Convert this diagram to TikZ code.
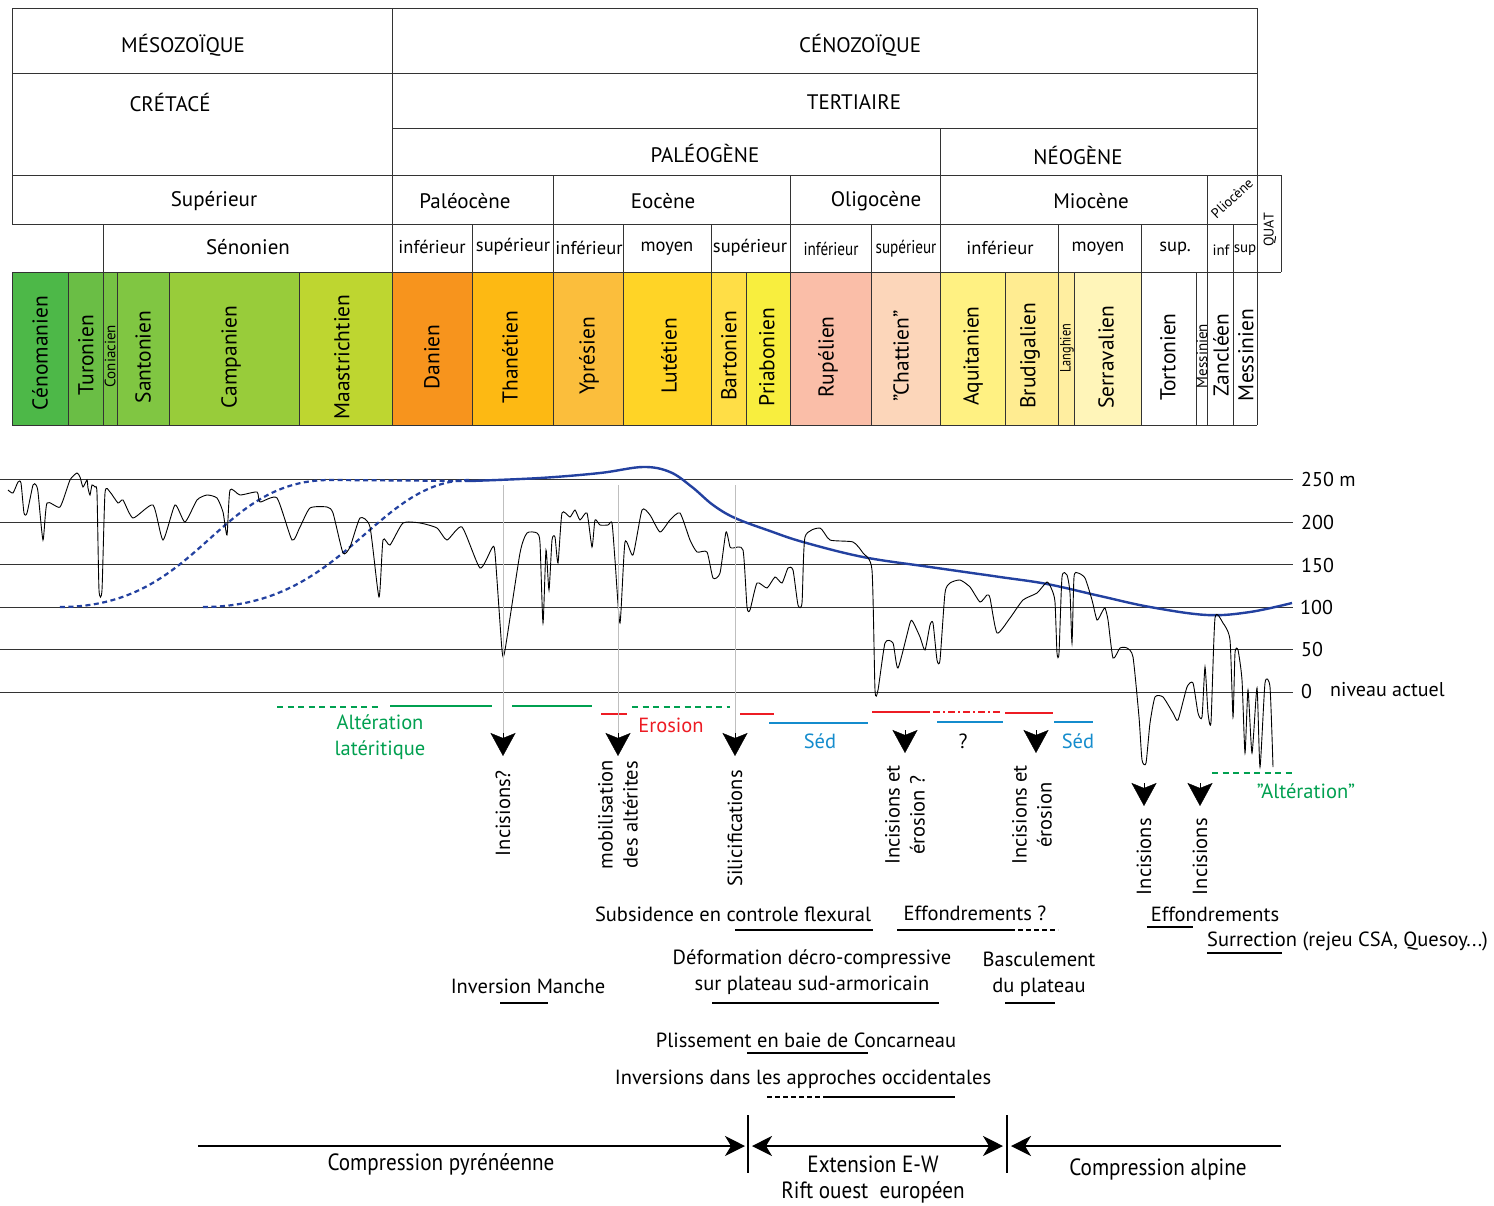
\documentclass[tikz,border=0pt]{standalone}
\usepackage{fontspec}
\setmainfont{PT Sans}
\newfontfamily\narrowfont[FakeStretch=0.82]{PT Sans}
\newfontfamily\condfont[FakeStretch=0.9]{PT Sans}
\usetikzlibrary{arrows.meta}

% couleurs des etages
\definecolor{cenoman}{RGB}{77,184,72}
\definecolor{turon}{RGB}{106,190,69}
\definecolor{coniac}{RGB}{118,194,68}
\definecolor{santon}{RGB}{128,198,66}
\definecolor{campan}{RGB}{152,204,58}
\definecolor{maastr}{RGB}{190,214,48}
\definecolor{danien}{RGB}{247,148,29}
\definecolor{thanet}{RGB}{253,185,19}
\definecolor{ypres}{RGB}{251,190,60}
\definecolor{lutet}{RGB}{255,212,38}
\definecolor{barton}{RGB}{255,222,70}
\definecolor{priabon}{RGB}{248,238,62}
\definecolor{rupel}{RGB}{250,190,168}
\definecolor{chatt}{RGB}{252,214,186}
\definecolor{aquit}{RGB}{255,241,130}
\definecolor{burdig}{RGB}{255,236,145}
\definecolor{langh}{RGB}{255,238,160}
\definecolor{serrav}{RGB}{255,245,185}
\definecolor{vertalt}{RGB}{0,160,80}
\definecolor{rougeero}{RGB}{237,28,36}
\definecolor{bleused}{RGB}{20,140,205}
\definecolor{bleucourbe}{RGB}{35,65,160}

\tikzset{
  filet/.style={line width=1pt, draw=black!80},
  entete/.style={font=\fontsize{21}{23}\selectfont, inner sep=0pt},
  sousper/.style={font=\fontsize{18.5}{20}\selectfont, inner sep=0pt},
  etroit/.style={font=\narrowfont\fontsize{18.5}{20}\selectfont, inner sep=0pt},
  etage/.style={rotate=90, font=\fontsize{21.5}{23}\selectfont, inner sep=0pt},
  petitetage/.style={rotate=90, font=\fontsize{15}{17}\selectfont, inner sep=0pt},
  texte/.style={font=\fontsize{20.5}{26}\selectfont, inner sep=0pt, align=center},
  vertical/.style={texte, rotate=90, font=\fontsize{20.5}{25}\selectfont},
  graduation/.style={font=\fontsize{20}{22}\selectfont, inner sep=0pt, anchor=west},
  niveau/.style={line width=1pt, draw=black!80},
  fleche/.style={line width=0.4pt, -{Stealth[length=23pt,width=25pt,inset=5pt]}},
  repere/.style={line width=0.5pt, draw=black!25},
  souligne/.style={line width=1.6pt},
  trait/.style={line width=2.4pt},
  tirets/.style={line width=2.4pt, dash pattern=on 6pt off 4.5pt},
  phase/.style={line width=1.8pt},
  fin/.style={-{Stealth[length=20pt,width=20pt,inset=6pt]}},
  regime/.style={font=\condfont\fontsize{23.5}{26}\selectfont, inner sep=0pt, align=center}
}

\begin{document}
\begin{tikzpicture}[x=1pt,y=-1pt]
\useasboundingbox (0,0) rectangle (1494,1205);
\fill[white] (0,0) rectangle (1494,1205);

% etages colores
\fill[cenoman] (12,272) rectangle (68,425);
\fill[turon] (68,272) rectangle (103,425);
\fill[coniac] (103,272) rectangle (117,425);
\fill[santon] (117,272) rectangle (169,425);
\fill[campan] (169,272) rectangle (299,425);
\fill[maastr] (299,272) rectangle (392,425);
\fill[danien] (392,272) rectangle (472,425);
\fill[thanet] (472,272) rectangle (553,425);
\fill[ypres] (553,272) rectangle (623,425);
\fill[lutet] (623,272) rectangle (711,425);
\fill[barton] (711,272) rectangle (746,425);
\fill[priabon] (746,272) rectangle (790,425);
\fill[rupel] (790,272) rectangle (871,425);
\fill[chatt] (871,272) rectangle (940,425);
\fill[aquit] (940,272) rectangle (1005,425);
\fill[burdig] (1005,272) rectangle (1058,425);
\fill[langh] (1058,272) rectangle (1074,425);
\fill[serrav] (1074,272) rectangle (1141,425);

% cadre du tableau
\draw[filet] (12,8) -- (1257,8);
\draw[filet] (12,73) -- (1257,73);
\draw[filet] (392,128) -- (1257,128);
\draw[filet] (12,175) -- (1281,175);
\draw[filet] (12,224) -- (1257,224);
\draw[filet] (12,272) -- (1281,272);
\draw[filet] (12,425) -- (1257,425);
\draw[filet] (12,8) -- (12,224);
\draw[filet] (12,272) -- (12,425);
\draw[filet] (392,8) -- (392,425);
\draw[filet] (1257,8) -- (1257,425);
\draw[filet] (1281,175) -- (1281,272);
\draw[filet] (940,128) -- (940,425);
\draw[filet] (553,175) -- (553,425);
\draw[filet] (790,175) -- (790,425);
\draw[filet] (1207,175) -- (1207,425);
\draw[filet] (103,224) -- (103,425);
\draw[filet] (472,224) -- (472,425);
\draw[filet] (623,224) -- (623,425);
\draw[filet] (711,224) -- (711,425);
\draw[filet] (871,224) -- (871,425);
\draw[filet] (1058,224) -- (1058,425);
\draw[filet] (1141,224) -- (1141,425);
\draw[filet] (1233,224) -- (1233,425);
\draw[filet] (68,272) -- (68,425);
\draw[filet] (117,272) -- (117,425);
\draw[filet] (169,272) -- (169,425);
\draw[filet] (299,272) -- (299,425);
\draw[filet] (746,272) -- (746,425);
\draw[filet] (1005,272) -- (1005,425);
\draw[filet] (1074,272) -- (1074,425);
\draw[filet] (1196,272) -- (1196,425);

% eres, systemes, series
\node[entete] (meso) at (183,45) {MÉSOZOÏQUE};
\node[entete] (ceno) at (860,45) {CÉNOZOÏQUE};
\node[entete] (cretace) at (170,102) {CRÉTACÉ};
\node[entete] (tertiaire) at (854,102) {TERTIAIRE};
\node[entete] (paleogene) at (705,153) {PALÉOGÈNE};
\node[entete] (neogene) at (1078,155) {NÉOGÈNE};
\node[entete] (superieur) at (214,201) {Supérieur};
\node[entete] (paleocene) at (465,201) {Paléocène};
\node[entete] (eocene) at (663,201) {Eocène};
\node[entete] (oligocene) at (876,201) {Oligocène};
\node[entete] (miocene) at (1091,201) {Miocène};
\node[font=\fontsize{14}{16}\selectfont, inner sep=0pt, rotate=43] (pliocene) at (1232,198) {Pliocène};
\node[font=\fontsize{14}{16}\selectfont, inner sep=0pt, rotate=90] (quat) at (1270,230) {QUAT};

% sous-series
\node[entete] (senonien) at (248,247) {Sénonien};
\node[sousper] (paleoInf) at (432,247) {inférieur};
\node[sousper] (paleoSup) at (513,247) {supérieur};
\node[sousper] (eoInf) at (589,248) {inférieur};
\node[sousper] (eoMoy) at (667,249) {moyen};
\node[sousper] (eoSup) at (750,248) {supérieur};
\node[etroit] (oliInf) at (831,249) {inférieur};
\node[etroit] (oliSup) at (906,249) {supérieur};
\node[sousper] (mioInf) at (1000,248) {inférieur};
\node[sousper] (mioMoy) at (1098,249) {moyen};
\node[sousper] (mioSup) at (1175,249) {sup.};
\node[font=\fontsize{15}{17}\selectfont, inner sep=0pt] (plioInf) at (1221,250) {inf};
\node[font=\fontsize{15}{17}\selectfont, inner sep=0pt] (plioSup) at (1245,250) {sup};

% etages
\node[etage] (cenomanien) at (40,353) {Cénomanien};
\node[etage] (turonien) at (86,355) {Turonien};
\node[petitetage] (coniacien) at (110,356) {Coniacien};
\node[etage] (santonien) at (143,357) {Santonien};
\node[etage] (campanien) at (231,357) {Campanien};
\node[etage] (maastrichtien) at (342,357) {Maastrichtien};
\node[etage] (danien) at (432,357) {Danien};
\node[etage] (thanetien) at (510,357) {Thanétien};
\node[etage] (ypresien) at (589,356) {Yprésien};
\node[etage] (lutetien) at (669,356) {Lutétien};
\node[etage] (bartonien) at (729,356) {Bartonien};
\node[etage] (priabonien) at (767,357) {Priabonien};
\node[etage] (rupelien) at (828,357) {Rupélien};
\node[etage] (chattien) at (901,356) {"Chattien"};
\node[etage] (aquitanien) at (973,356) {Aquitanien};
\node[etage] (burdigalien) at (1030,356) {Brudigalien};
\node[petitetage, font=\narrowfont\fontsize{15}{17}\selectfont] (langhien) at (1067,348) {Langhien};
\node[etage] (serravalien) at (1106,357) {Serravalien};
\node[etage] (tortonien) at (1168,357) {Tortonien};
\node[petitetage] (messinienA) at (1202,356) {Messinien};
\node[etage] (zancleen) at (1221,355) {Zancléen};
\node[etage] (messinienB) at (1246,355) {Messinien};

% niveaux d'altitude
\draw[niveau] (0,479) -- (1293,479);
\draw[niveau] (0,522) -- (1293,522);
\draw[niveau] (0,564) -- (1293,564);
\draw[niveau] (0,607) -- (1293,607);
\draw[niveau] (0,649) -- (1293,649);
\draw[niveau] (0,692) -- (1293,692);
\node[graduation] (gr250) at (1301,479) {250 m};
\node[graduation] (gr200) at (1301,522) {200};
\node[graduation] (gr150) at (1301,565) {150};
\node[graduation] (gr100) at (1300,607) {100};
\node[graduation] (gr50) at (1301,649) {50};
\node[graduation] (gr0) at (1301,691) {0};
\node[graduation] (niveau) at (1330,690) {niveau actuel};

% courbes bleues
\draw[bleucourbe, line width=2.2pt, dash pattern=on 5pt off 3.5pt]
  (60,607) .. controls (200,607) and (215,480) .. (330,480) -- (470,481);
\draw[bleucourbe, line width=2.2pt, dash pattern=on 5pt off 3.5pt]
  (203,607) .. controls (345,607) and (375,480) .. (470,480);
\draw[bleucourbe, line width=2.4pt] plot[smooth, tension=0.6] coordinates {
  (470,481) (540,478) (600,473) (643,467) (670,472) (692,487) (713,505) (735,518)
  (770,531) (803,542) (863,557) (930,567) (1000,577) (1047,584) (1100,596)
  (1150,607) (1207,615) (1250,612) (1292,603)};

% courbe du relief
\draw[line width=0.9pt] plot[smooth, tension=0.35] coordinates {
  (8,490) (13,493) (18,482) (21,483) (24,513) (27,513) (33,485) (36,485) (38,492)
  (43,540) (47,503) (60,507) (70,480) (77,473) (80,477) (83,487) (87,480) (88,488)
  (90,495) (92,485) (95,487) (97,493) (99,590) (102,590) (105,493) (110,492)
  (118,503) (123,500) (133,518) (153,505) (163,540) (175,505) (185,522) (197,500)
  (207,495) (217,498) (223,512) (227,535) (230,490) (240,495) (257,492) (260,502)
  (277,498) (292,540) (300,527) (310,508) (327,507) (333,513) (343,553) (350,547)
  (360,518) (370,527) (379,597) (383,540) (390,545) (403,523) (420,523) (437,528)
  (447,540) (462,527) (480,568) (492,548) (495,553) (502,650) (505,650) (520,553)
  (527,533) (537,533) (540,543) (543,623) (546,550) (549,590) (552,540) (555,537)
  (558,563) (562,513) (570,517) (575,510) (580,520) (587,513) (592,547) (595,520)
  (600,525) (608,525) (612,523) (615,560) (620,623) (625,542) (633,555) (642,510)
  (650,515) (660,532) (670,520) (680,513) (690,540) (697,552) (707,552) (713,578)
  (720,573) (726,532) (730,547) (733,548) (743,550) (747,607) (750,610) (757,583)
  (767,588) (775,577) (782,583) (788,568) (793,570) (798,605) (802,603) (805,537)
  (820,528) (830,540) (853,542) (863,553) (872,570) (875,690) (878,690) (885,643)
  (893,643) (898,668) (910,623) (913,622) (920,637) (925,650) (930,625) (933,623)
  (937,660) (940,660) (945,593) (950,583) (960,580) (970,587) (980,602) (987,595)
  (990,598) (997,633) (1010,618) (1023,600) (1037,593) (1047,582) (1052,590)
  (1055,602) (1057,653) (1059,653) (1062,577) (1067,575) (1070,593) (1072,643)
  (1074,577) (1078,573) (1085,578) (1092,600) (1097,620) (1102,612) (1105,608)
  (1108,620) (1113,658) (1120,648) (1127,648) (1133,657) (1139,717) (1142,760)
  (1146,763) (1150,723) (1155,697) (1163,697) (1173,713) (1178,720) (1187,687)
  (1193,683) (1198,713) (1202,717) (1205,667) (1208,713) (1211,722) (1215,618)
  (1223,623) (1230,640) (1233,717) (1235,653) (1238,650) (1242,680) (1245,753)
  (1248,690) (1252,753) (1257,688) (1260,767) (1265,683) (1270,687) (1273,767)};

% traits colores
\draw[vertalt, tirets] (277,707) -- (380,707);
\draw[vertalt, trait] (390,706) -- (492,706);
\draw[vertalt, trait] (512,706) -- (592,706);
\draw[vertalt, tirets] (632,707) -- (730,707);
\draw[rougeero, trait] (601,714) -- (627,714);
\draw[rougeero, trait] (740,714) -- (774,714);
\draw[rougeero, trait] (872,712) -- (930,712);
\draw[rougeero, line width=2.4pt, dash pattern=on 7pt off 3pt on 2pt off 3pt] (933,712) -- (1002,712);
\draw[rougeero, trait] (1005,713) -- (1053,713);
\draw[bleused, trait] (769,723) -- (868,723);
\draw[bleused, trait] (937,722) -- (1003,722);
\draw[bleused, trait] (1054,722) -- (1093,722);
\draw[vertalt, tirets] (1212,773) -- (1292,773);
\node[texte, text=vertalt] (altLat) at (380,737) {Altération\\latéritique};
\node[texte, text=rougeero] (erosion) at (671,725) {Erosion};
\node[texte, text=bleused] (sed1) at (820,741) {Séd};
\node[texte] (quest) at (963,741) {?};
\node[texte, text=bleused] (sed2) at (1078,741) {Séd};
\node[texte, text=vertalt] (altQ) at (1306,791) {"Altération"};

% evenements
\node[vertical, anchor=east] (incis1) at (503,770) {Incisions?};
\node[vertical, anchor=east] (mobil) at (618,760) {mobilisation\\des altérites};
\node[vertical, anchor=east] (silic) at (735,770) {Silicifications};
\node[vertical, anchor=east] (incis2) at (905,765) {Incisions et\\érosion ?};
\node[vertical, anchor=east] (incis3) at (1032,765) {Incisions et\\érosion};
\node[vertical, anchor=east] (incis4) at (1144,818) {Incisions};
\node[vertical, anchor=east] (incis5) at (1200,818) {Incisions};
\coordinate (g1) at (503,485);
\coordinate (g2) at (618,485);
\coordinate (g3) at (735,485);
\coordinate (h1) at (503,733);
\coordinate (h2) at (618,733);
\coordinate (h3) at (735,733);
\coordinate (h4) at (905,730);
\coordinate (h5) at (1036,730);
\coordinate (h6) at (1144,783);
\coordinate (h7) at (1200,783);
\coordinate (f1) at (503,756);
\coordinate (f2) at (618,756);
\coordinate (f3) at (735,756);
\coordinate (f4) at (905,753);
\coordinate (f5) at (1036,753);
\coordinate (f6) at (1144,806);
\coordinate (f7) at (1200,806);
\draw[repere] (g1) -- (h1);
\draw[repere] (g2) -- (h2);
\draw[repere] (g3) -- (h3);
\draw[fleche] (h1) -- (f1);
\draw[fleche] (h2) -- (f2);
\draw[fleche] (h3) -- (f3);
\draw[fleche] (h4) -- (f4);
\draw[fleche] (h5) -- (f5);
\draw[fleche] (h6) -- (f6);
\draw[fleche] (h7) -- (f7);

% contexte tectonique
\node[texte] (subsid) at (733,914) {Subsidence en controle flexural};
\node[texte] (effond1) at (975,913) {Effondrements ?};
\node[texte] (deform) at (812,972) {Déformation décro-compressive\\sur plateau sud-armoricain};
\node[texte] (bascul) at (1039,974) {Basculement\\du plateau};
\node[texte] (invManche) at (528,986) {Inversion Manche};
\node[texte] (pliss) at (806,1040) {Plissement en baie de Concarneau};
\node[texte] (invApp) at (803,1079) {Inversions dans les approches occidentales};
\node[texte] (effond2) at (1215,914) {Effondrements};
\node[texte, anchor=west] (surrect) at (1207,941) {Surrection (rejeu CSA, Quesoy...)};
\draw[souligne] (735,930) -- (873,930);
\draw[souligne] (897,930) -- (1015,930);
\draw[souligne, dash pattern=on 5pt off 3pt] (1018,930) -- (1058,930);
\draw[souligne] (712,1003) -- (939,1003);
\draw[souligne] (1005,1003) -- (1055,1003);
\draw[souligne] (500,1003) -- (548,1003);
\draw[souligne] (747,1053) -- (868,1053);
\draw[souligne, dash pattern=on 5pt off 3pt] (767,1097) -- (827,1097);
\draw[souligne] (827,1097) -- (955,1097);
\draw[souligne] (1147,927) -- (1193,927);
\draw[souligne] (1207,953) -- (1282,953);

% regimes de contraintes
\coordinate (pyrA) at (198,1146);
\coordinate (pyrB) at (745,1146);
\coordinate (extA) at (752,1146);
\coordinate (extB) at (1003,1146);
\coordinate (alpA) at (1011,1146);
\coordinate (alpB) at (1281,1146);
\draw[phase, fin] (pyrA) -- (pyrB);
\draw[phase, {Stealth[length=20pt,width=20pt,inset=6pt]}-{Stealth[length=20pt,width=20pt,inset=6pt]}] (extA) -- (extB);
\draw[phase, {Stealth[length=20pt,width=20pt,inset=6pt]}-] (alpA) -- (alpB);
\draw[line width=1.2pt] (748,1115) -- (748,1173);
\draw[line width=1.2pt] (1007,1115) -- (1007,1173);
\node[regime] (comprPyr) at (441,1164) {Compression pyrénéenne};
\node[regime] (extension) at (873,1180) {Extension E-W\\Rift ouest\ \ européen};
\node[regime] (comprAlp) at (1158,1169) {Compression alpine};
\end{tikzpicture}
\end{document}
